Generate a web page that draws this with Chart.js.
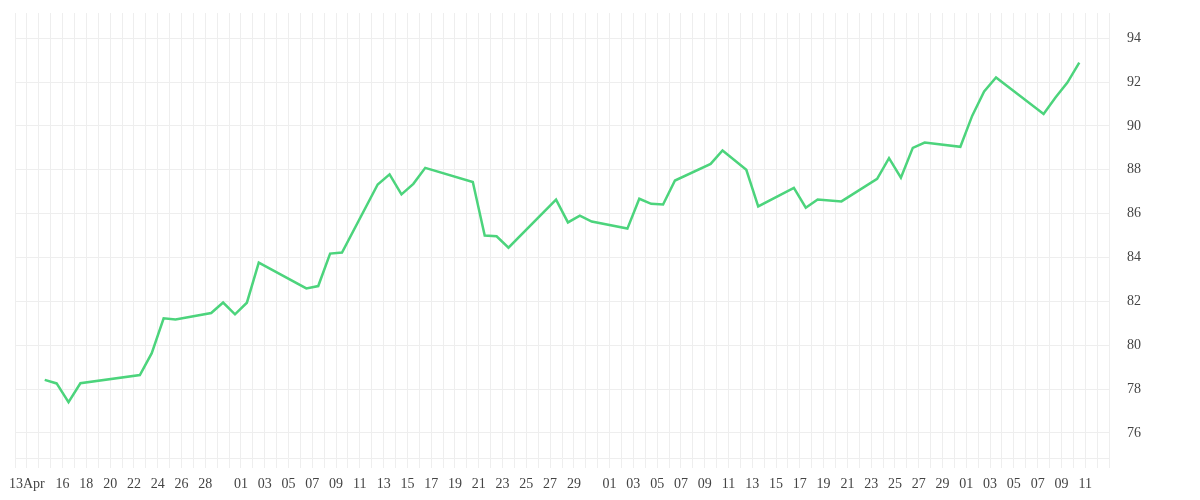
<!DOCTYPE html>
<html lang="en">
<head>
    <meta charset="UTF-8">
    <title>Line</title>
    <script src="https://cdn.jsdelivr.net/npm/chart.js@4"></script>
    <style>
        body {
            margin: 0;
            background: #ffffff;
        }
        .contenedor {
            width: 1200px;
            height: 500px;
        }
    </style>
</head>
<body>
    <div class="contenedor">
        <canvas id="grafica"></canvas>
    </div>
    <script>
        // fechas (MM-DD) y valores
        const fechas = [
            '04-14', '04-15', '04-16', '04-17', '04-22', '04-23', '04-24', '04-25',
            '04-28', '04-29', '04-30', '05-01', '05-02', '05-06', '05-07', '05-08',
            '05-09', '05-12', '05-13', '05-14', '05-15', '05-16', '05-20', '05-21',
            '05-22', '05-23', '05-27', '05-28', '05-29', '05-30', '06-02', '06-03',
            '06-04', '06-05', '06-06', '06-09', '06-10', '06-12', '06-13', '06-16',
            '06-17', '06-18', '06-20', '06-23', '06-24', '06-25', '06-26', '06-27',
            '06-30', '07-01', '07-02', '07-03', '07-07', '07-08', '07-09', '07-10'
        ];
        const valores = [
            78.42, 78.26, 77.41, 78.27, 78.64, 79.64, 81.23, 81.18,
            81.47, 81.95, 81.41, 81.94, 83.77, 82.59, 82.70, 84.18,
            84.23, 87.33, 87.79, 86.88, 87.36, 88.09, 87.44, 85.00,
            84.97, 84.45, 86.64, 85.60, 85.91, 85.64, 85.32, 86.68,
            86.45, 86.42, 87.51, 88.27, 88.88, 88.00, 86.33, 87.18,
            86.27, 86.65, 86.56, 87.59, 88.53, 87.64, 89.00, 89.24,
            89.05, 90.47, 91.57, 92.21, 90.55, 91.30, 91.98, 92.89
        ];

        // etiquetas del eje x
        const fechasEtiqueta = [
            '04-13', '04-16', '04-18', '04-20', '04-22', '04-24', '04-26', '04-28',
            '05-01', '05-03', '05-05', '05-07', '05-09', '05-11', '05-13', '05-15',
            '05-17', '05-19', '05-21', '05-23', '05-25', '05-27', '05-29',
            '06-01', '06-03', '06-05', '06-07', '06-09', '06-11', '06-13', '06-15',
            '06-17', '06-19', '06-21', '06-23', '06-25', '06-27', '06-29',
            '07-01', '07-03', '07-05', '07-07', '07-09', '07-11'
        ];
        const textoEtiqueta = [
            '13Apr', '16', '18', '20', '22', '24', '26', '28',
            '01', '03', '05', '07', '09', '11', '13', '15',
            '17', '19', '21', '23', '25', '27', '29',
            '01', '03', '05', '07', '09', '11', '13', '15',
            '17', '19', '21', '23', '25', '27', '29',
            '01', '03', '05', '07', '09', '11'
        ];

        const inicio = '04-12';
        const fin = '07-13';
        const yTicks = [76, 78, 80, 82, 84, 86, 88, 90, 92, 94];

        function diaIndice(mmdd) {
            const p = mmdd.split('-');
            const base = Date.UTC(2021, 3, 12);
            return Math.round((Date.UTC(2021, parseInt(p[0]) - 1, parseInt(p[1])) - base) / 86400000);
        }

        const puntos = fechas.map((f, i) => ({ x: diaIndice(f) + 0.5, y: valores[i] }));
        const etiquetas = {};
        fechasEtiqueta.forEach((f, i) => { etiquetas[diaIndice(f)] = textoEtiqueta[i]; });

        const fuente = { family: 'Liberation Serif', size: 14 };

        new Chart(document.getElementById('grafica'), {
            type: 'line',
            data: {
                datasets: [{
                    data: puntos,
                    borderColor: '#4cd47c',
                    borderWidth: 2.5,
                    pointRadius: 0,
                    tension: 0,
                    fill: false
                }]
            },
            options: {
                responsive: true,
                maintainAspectRatio: false,
                animation: false,
                devicePixelRatio: 1,
                layout: { padding: { left: 15, top: 13, right: 0, bottom: 0 } },
                plugins: { legend: { display: false }, tooltip: { enabled: false } },
                scales: {
                    x: {
                        type: 'linear',
                        min: diaIndice(inicio),
                        max: diaIndice(fin),
                        afterBuildTicks: function (s) {
                            const t = [];
                            for (let d = diaIndice(inicio); d <= diaIndice(fin); d++) t.push({ value: d });
                            s.ticks = t;
                        },
                        afterFit: function (s) { s.height = 42; },
                        grid: { color: '#eeeeee', tickLength: 10 },
                        border: { color: '#eeeeee' },
                        ticks: {
                            autoSkip: false,
                            maxRotation: 0,
                            padding: 8,
                            color: '#444444',
                            font: fuente,
                            callback: function (v) { return etiquetas[v] || ''; }
                        }
                    },
                    y: {
                        position: 'right',
                        min: 74.86,
                        max: 95.15,
                        afterBuildTicks: function (s) {
                            s.ticks = yTicks.map(v => ({ value: v }));
                        },
                        afterFit: function (s) { s.width = 91; },
                        grid: { color: '#eeeeee', tickLength: 18, tickColor: 'rgba(0,0,0,0)' },
                        border: { color: '#eeeeee' },
                        ticks: {
                            padding: 0,
                            color: '#444444',
                            font: fuente
                        }
                    }
                }
            }
        });
    </script>
</body>
</html>
